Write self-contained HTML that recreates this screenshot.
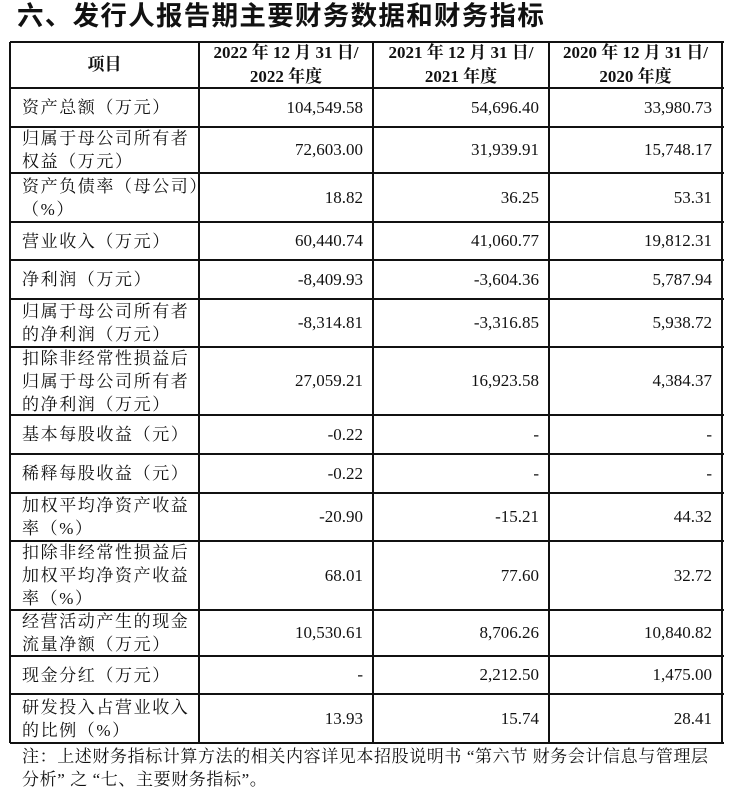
<!DOCTYPE html>
<html><head><meta charset="utf-8"><style>
html,body{margin:0;padding:0;background:#fff;width:734px;height:787px;overflow:hidden;position:relative}
.t{position:absolute;left:17px;top:-6px;font:bold 26.5px "Liberation Sans","Noto Sans CJK SC",sans-serif;color:#111;letter-spacing:1.3px;white-space:nowrap}
.h{position:absolute;background:#111;height:1.5px}
.v{position:absolute;background:#111;width:1.5px}
.c{position:absolute;display:flex;align-items:center;color:#111;font:17px "Liberation Serif","Noto Serif CJK SC",serif;white-space:nowrap}
.l{padding-left:12px;letter-spacing:1.6px;line-height:23px;font-family:"Liberation Serif","Noto Serif CJK SC",serif;box-sizing:border-box}
.n{justify-content:flex-end;padding-right:10px;box-sizing:border-box}
.hd{justify-content:center;text-align:center;font-weight:bold;line-height:24px}
.note{position:absolute;left:22px;top:745px;font:17px "Liberation Serif","Noto Serif CJK SC",serif;line-height:23px;color:#111;letter-spacing:0.6px;white-space:nowrap}
</style></head><body>
<div class="t">六、发行人报告期主要财务数据和财务指标</div>
<div id="g"></div>
<div class="note">注：上述财务指标计算方法的相关内容详见本招股说明书 “第六节 财务会计信息与管理层<br>分析” 之 “七、主要财务指标”。</div>
<script>
var R=[42,88,127,173,222,260,299,347,415,454,493,541,610,656,694,743];
var C=[10,199,373,549,722];
var D=[
["项目","2022 年 12 月 31 日/<br>2022 年度","2021 年 12 月 31 日/<br>2021 年度","2020 年 12 月 31 日/<br>2020 年度"],
["资产总额（万元）","104,549.58","54,696.40","33,980.73"],
["归属于母公司所有者<br>权益（万元）","72,603.00","31,939.91","15,748.17"],
["资产负债率（母公司）<br>（%）","18.82","36.25","53.31"],
["营业收入（万元）","60,440.74","41,060.77","19,812.31"],
["净利润（万元）","-8,409.93","-3,604.36","5,787.94"],
["归属于母公司所有者<br>的净利润（万元）","-8,314.81","-3,316.85","5,938.72"],
["扣除非经常性损益后<br>归属于母公司所有者<br>的净利润（万元）","27,059.21","16,923.58","4,384.37"],
["基本每股收益（元）","-0.22","-","-"],
["稀释每股收益（元）","-0.22","-","-"],
["加权平均净资产收益<br>率（%）","-20.90","-15.21","44.32"],
["扣除非经常性损益后<br>加权平均净资产收益<br>率（%）","68.01","77.60","32.72"],
["经营活动产生的现金<br>流量净额（万元）","10,530.61","8,706.26","10,840.82"],
["现金分红（万元）","-","2,212.50","1,475.00"],
["研发投入占营业收入<br>的比例（%）","13.93","15.74","28.41"]];
var h="";
for(var i=0;i<R.length;i++){var th=(i==0||i==R.length-1)?2:1.5;h+='<div class="h" style="left:'+C[0]+'px;top:'+(R[i]-1)+'px;width:'+(C[4]-C[0]+2)+'px;height:'+th+'px"></div>';}
for(var j=0;j<C.length;j++){var tw=(j==0||j==C.length-1)?2:1.5;h+='<div class="v" style="left:'+(C[j]-1)+'px;top:'+R[0]+'px;height:'+(R[R.length-1]-R[0])+'px;width:'+tw+'px"></div>';}
for(var r=0;r<D.length;r++)for(var k=0;k<4;k++){
var cls=r==0?"hd":(k==0?"l":"n");
h+='<div class="c '+cls+'" style="left:'+C[k]+'px;top:'+R[r]+'px;width:'+(C[k+1]-C[k])+'px;height:'+(R[r+1]-R[r])+'px"><div>'+D[r][k]+'</div></div>';}
document.getElementById("g").innerHTML=h;
</script>
</body></html>
